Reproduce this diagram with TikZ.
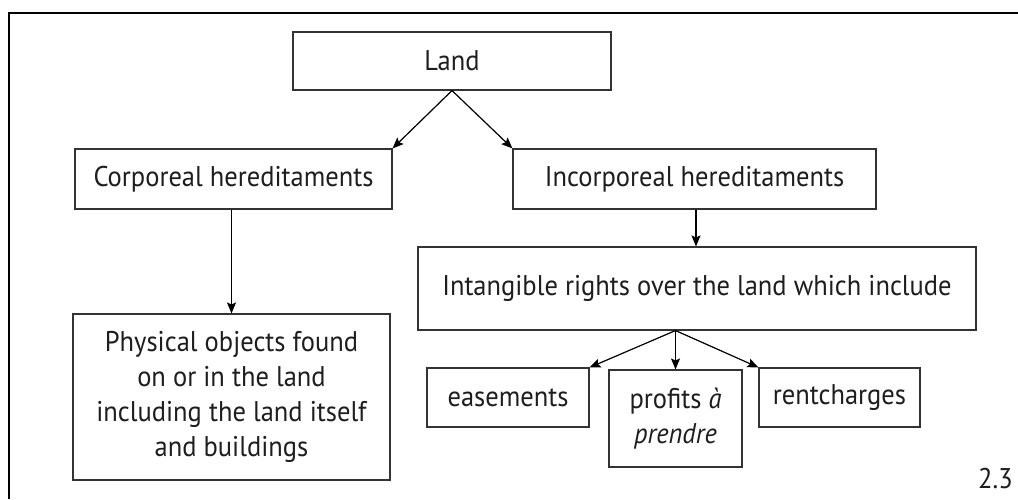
\documentclass[tikz,border=0pt]{standalone}
\usepackage{fontspec}
\setmainfont{PT Sans}[FakeStretch=0.93]
\usetikzlibrary{arrows.meta}
\definecolor{ink}{HTML}{1E1E1E}
\definecolor{edge}{HTML}{333333}
\begin{document}
\begin{tikzpicture}[x=1pt,y=-1pt,
  box/.style={draw=edge,line width=1.1pt,rectangle,inner sep=0pt,text=ink,
    font=\fontsize{28.5}{35}\selectfont,align=center},
  arr/.style={draw=black,line width=1.2pt,-{Stealth[length=11pt,width=9pt,inset=2pt]}}]
\useasboundingbox (0,0) rectangle (1018,499);
\fill[white] (0,0) rectangle (1018,499);
\draw[line width=1.6pt,black] (9,499) -- (9,13) -- (1018,13);
\node[box,minimum width=318pt,minimum height=58pt] (land) at (452,61) {Land};
\node[box,minimum width=317pt,minimum height=60pt] (corp) at (233.5,179) {Corporeal hereditaments};
\node[box,minimum width=363pt,minimum height=60pt] (incorp) at (694.5,179) {Incorporeal hereditaments};
\node[box,minimum width=558pt,minimum height=83pt] (intang) at (697,288.5) {Intangible rights over the land which include};
\node[box,minimum width=317pt,minimum height=166pt] (phys) at (231.5,397) {Physical objects found\\on or in the land\\including the land itself\\and buildings};
\node[box,minimum width=162pt,minimum height=59pt] (ease) at (508,397.5) {easements};
\node[box,minimum width=133pt,minimum height=97pt] (prof) at (675.5,418.5) {profits \textit{à}\\\textit{prendre}};
\node[box,minimum width=161pt,minimum height=59pt] (rent) at (839.5,397.5) {rentcharges};
\node[anchor=base east,inner sep=0pt,text=ink,font=\fontsize{28.5}{30}\selectfont] (fig) at (1013,488) {2.3};
\coordinate (landout) at (land.south);
\draw[arr] (landout) -- (corp.north east);
\draw[arr] (landout) -- (incorp.north west);
\draw[arr] (corp.south -| phys.north) -- (phys.north);
\draw[arr] (incorp.south) ++(1.5,0) coordinate (incout) -- (incout |- intang.north);
\coordinate (fan) at (prof.north |- intang.south);
\draw[arr] (fan) -- (ease.north east);
\draw[arr] (fan) -- (prof.north);
\draw[arr] (fan) -- (rent.north west);
\end{tikzpicture}
\end{document}
